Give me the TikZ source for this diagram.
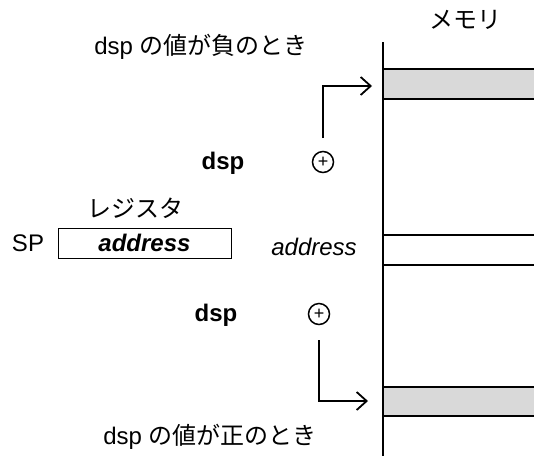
\documentclass[tikz,border=0pt]{standalone}
\usepackage{fontspec}
\setmainfont{Liberation Sans}
\newfontfamily\jp{Noto Sans CJK JP}
\usetikzlibrary{arrows.meta}
\definecolor{band}{HTML}{D9D9D9}
\tikzset{
  txt/.style={inner sep=0pt, font=\fontsize{24}{28}\selectfont},
  mline/.style={line width=2pt},
  conn/.style={line width=1.8pt, -{Straight Barb[length=10pt,width=18pt,line width=1.8pt]}},
  plus/.style={circle, draw, line width=1.5pt, minimum size=21pt, inner sep=0pt, font=\fontsize{18}{18}\selectfont}
}
\begin{document}
\begin{tikzpicture}[x=1pt,y=-1pt]
\useasboundingbox (0,0) rectangle (534,456);
% memory
\fill[band] (383,69) rectangle (534,99);
\fill[band] (383,387) rectangle (534,416);
\draw[mline] (383,69) -- (534,69) (383,99) -- (534,99);
\draw[mline] (383,235) -- (534,235) (383,265) -- (534,265);
\draw[mline] (383,387) -- (534,387) (383,416) -- (534,416);
\coordinate (mtop) at (383,42);
\coordinate (mbot) at (383,456);
\draw[mline] (mtop) -- (mbot);
\node[txt] (mem) at (465,20) {\jp メモリ};
% labels
\node[txt] (neg) at (201,47) {dsp {\jp の値が負のとき}};
\node[txt] (pos) at (210,437) {dsp {\jp の値が正のとき}};
% top
\node[txt, font=\fontsize{24}{28}\selectfont\bfseries] (dsp1) at (223,163) {dsp};
\node[plus] (p1) at (323,162) {+};
\coordinate (a1s) at (323,138);
\coordinate (a1c) at (323,86);
\coordinate (a1e) at (372,86);
\draw[conn] (a1s) -- (a1c) -- (a1e);
% bottom
\node[txt, font=\fontsize{24}{28}\selectfont\bfseries] (dsp2) at (216,315) {dsp};
\node[plus] (p2) at (319,314) {+};
\coordinate (a2s) at (319,340);
\coordinate (a2c) at (319,401);
\coordinate (a2e) at (368,401);
\draw[conn] (a2s) -- (a2c) -- (a2e);
% register
\node[txt] (reg) at (135,208) {\jp レジスタ};
\node[draw, line width=1pt, minimum width=173pt, minimum height=30pt, inner sep=0pt,
      font=\fontsize{24}{28}\selectfont\bfseries\itshape] (box) at (144.5,243) {address};
\node[txt] (sp) at (28,243) {SP};
\node[txt, font=\fontsize{24}{28}\selectfont\itshape] (addr) at (314,247) {address};
\end{tikzpicture}
\end{document}
